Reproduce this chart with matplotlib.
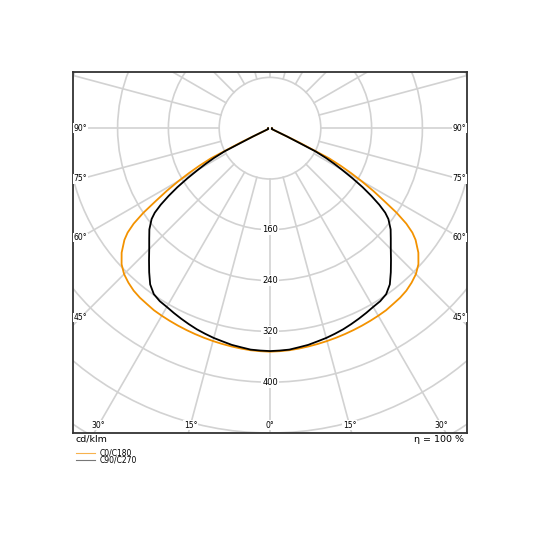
import numpy as np
import matplotlib
matplotlib.use("Agg")
import matplotlib.pyplot as plt
from matplotlib.patches import Circle
from matplotlib.lines import Line2D

# Lichtstärkeverteilung (cd/klm), gamma = Winkel von der Nadir-Richtung
gamma = [0, 2.5, 5, 7.5, 10, 12.5, 15, 17.5, 20, 22.5, 25, 27.5, 30, 32.5, 35, 37.5,
         40, 42.5, 45, 47.5, 50, 52.5, 53.75, 55, 56.25, 57.5, 58.75, 60, 61, 62, 63,
         64, 65, 67.5, 70, 75, 80, 85, 90]
c0_c180 = [352, 351.5, 351, 350, 349, 348, 347, 346, 345, 344, 343, 342, 341, 340, 338, 336.5,
           334, 330, 325, 317, 305, 289, 278, 262, 240, 213, 190, 166, 146, 126, 104,
           50, 4, 3, 3, 3, 3, 3, 3]
c90_c270 = [351, 350.5, 350, 348, 346.5, 344, 342, 339.5, 337, 334, 331, 328, 325, 323, 319, 310,
            296, 282, 269, 258, 248, 235, 225, 210, 192, 173, 152, 131, 116, 100, 80,
            30, 3, 3, 3, 3, 3, 3, 3]

ring_values = [80, 160, 240, 320, 400, 480, 560, 640]
ring_labels = [160, 240, 320, 400]
ray_angles = list(range(0, 360, 15))
angle_labels = [0, 15, 30, 45, 60, 75, 90]
series_names = ["C0/C180", "C90/C270"]
unit_text = "cd/klm"
eta_text = "η = 100 %"

orange = "#f39200"
grid_col = "#d2d2d2"

fig = plt.figure(figsize=(5.4, 5.4), dpi=100)
ax = fig.add_axes([72.7 / 540, 107 / 540, 394.6 / 540, 361 / 540])
xmax, ymin, ymax = 310.7, -480, 88.5
ax.set_xlim(-xmax, xmax)
ax.set_ylim(ymin, ymax)
ax.set_xticks([])
ax.set_yticks([])
for s in ax.spines.values():
    s.set_color("#333333")
    s.set_linewidth(1.3)

# Gitter: Kreise und Strahlen
for r in ring_values:
    ax.add_patch(Circle((0, 0), r, fill=False, ec=grid_col, lw=1.2, zorder=1))
for a in ray_angles:
    t = np.radians(a)
    ax.plot([80 * np.sin(t), 800 * np.sin(t)], [-80 * np.cos(t), -800 * np.cos(t)],
            color=grid_col, lw=1.2, zorder=1)

# Kurven (symmetrisch links/rechts)
g = np.radians(np.array(gamma))
g_full = np.concatenate([-g[::-1], g[1:]])
for vals, col, z in [(c0_c180, orange, 3), (c90_c270, "black", 4)]:
    v = np.array(vals, dtype=float)
    v_full = np.concatenate([v[::-1], v[1:]])
    ax.plot(v_full * np.sin(g_full), -v_full * np.cos(g_full), color=col, lw=1.3,
            zorder=z, solid_joinstyle="round")

# Ringbeschriftung
for v in ring_labels:
    ax.text(0, -v, str(v), ha="center", va="center", fontsize=6, zorder=5,
            bbox=dict(fc="white", ec="none", pad=0.6))

# Winkelbeschriftung am Rahmen
inset = 12.5
for a in angle_labels:
    t = np.radians(a)
    cands = []
    if np.sin(t) > 1e-9:
        cands.append((xmax - inset) / np.sin(t))
    if np.cos(t) > 1e-9:
        cands.append((-ymin - inset) / np.cos(t))
    d = min(cands)
    sides = [1] if a == 0 else [-1, 1]
    for sd in sides:
        ax.text(sd * d * np.sin(t), -d * np.cos(t), f"{a}°", ha="center", va="center",
                fontsize=5.5, zorder=5, bbox=dict(fc="white", ec="none", pad=0.3))

# Texte unter dem Diagramm
fig.text(76 / 540, 1 - 439 / 540, unit_text, ha="left", va="center", fontsize=6.8)
fig.text(463.5 / 540, 1 - 439 / 540, eta_text, ha="right", va="center", fontsize=6.8)

for i, (name, col) in enumerate(zip(series_names, ["#f7b24d", "#777777"])):
    yy = 1 - (452.7 + 7.5 * i) / 540
    fig.add_artist(Line2D([76 / 540, 95 / 540], [yy, yy], color=col, lw=0.8,
                          transform=fig.transFigure))
    fig.text(100 / 540, yy, name, ha="left", va="center", fontsize=5.5)

fig.savefig("out.png", dpi=100)
